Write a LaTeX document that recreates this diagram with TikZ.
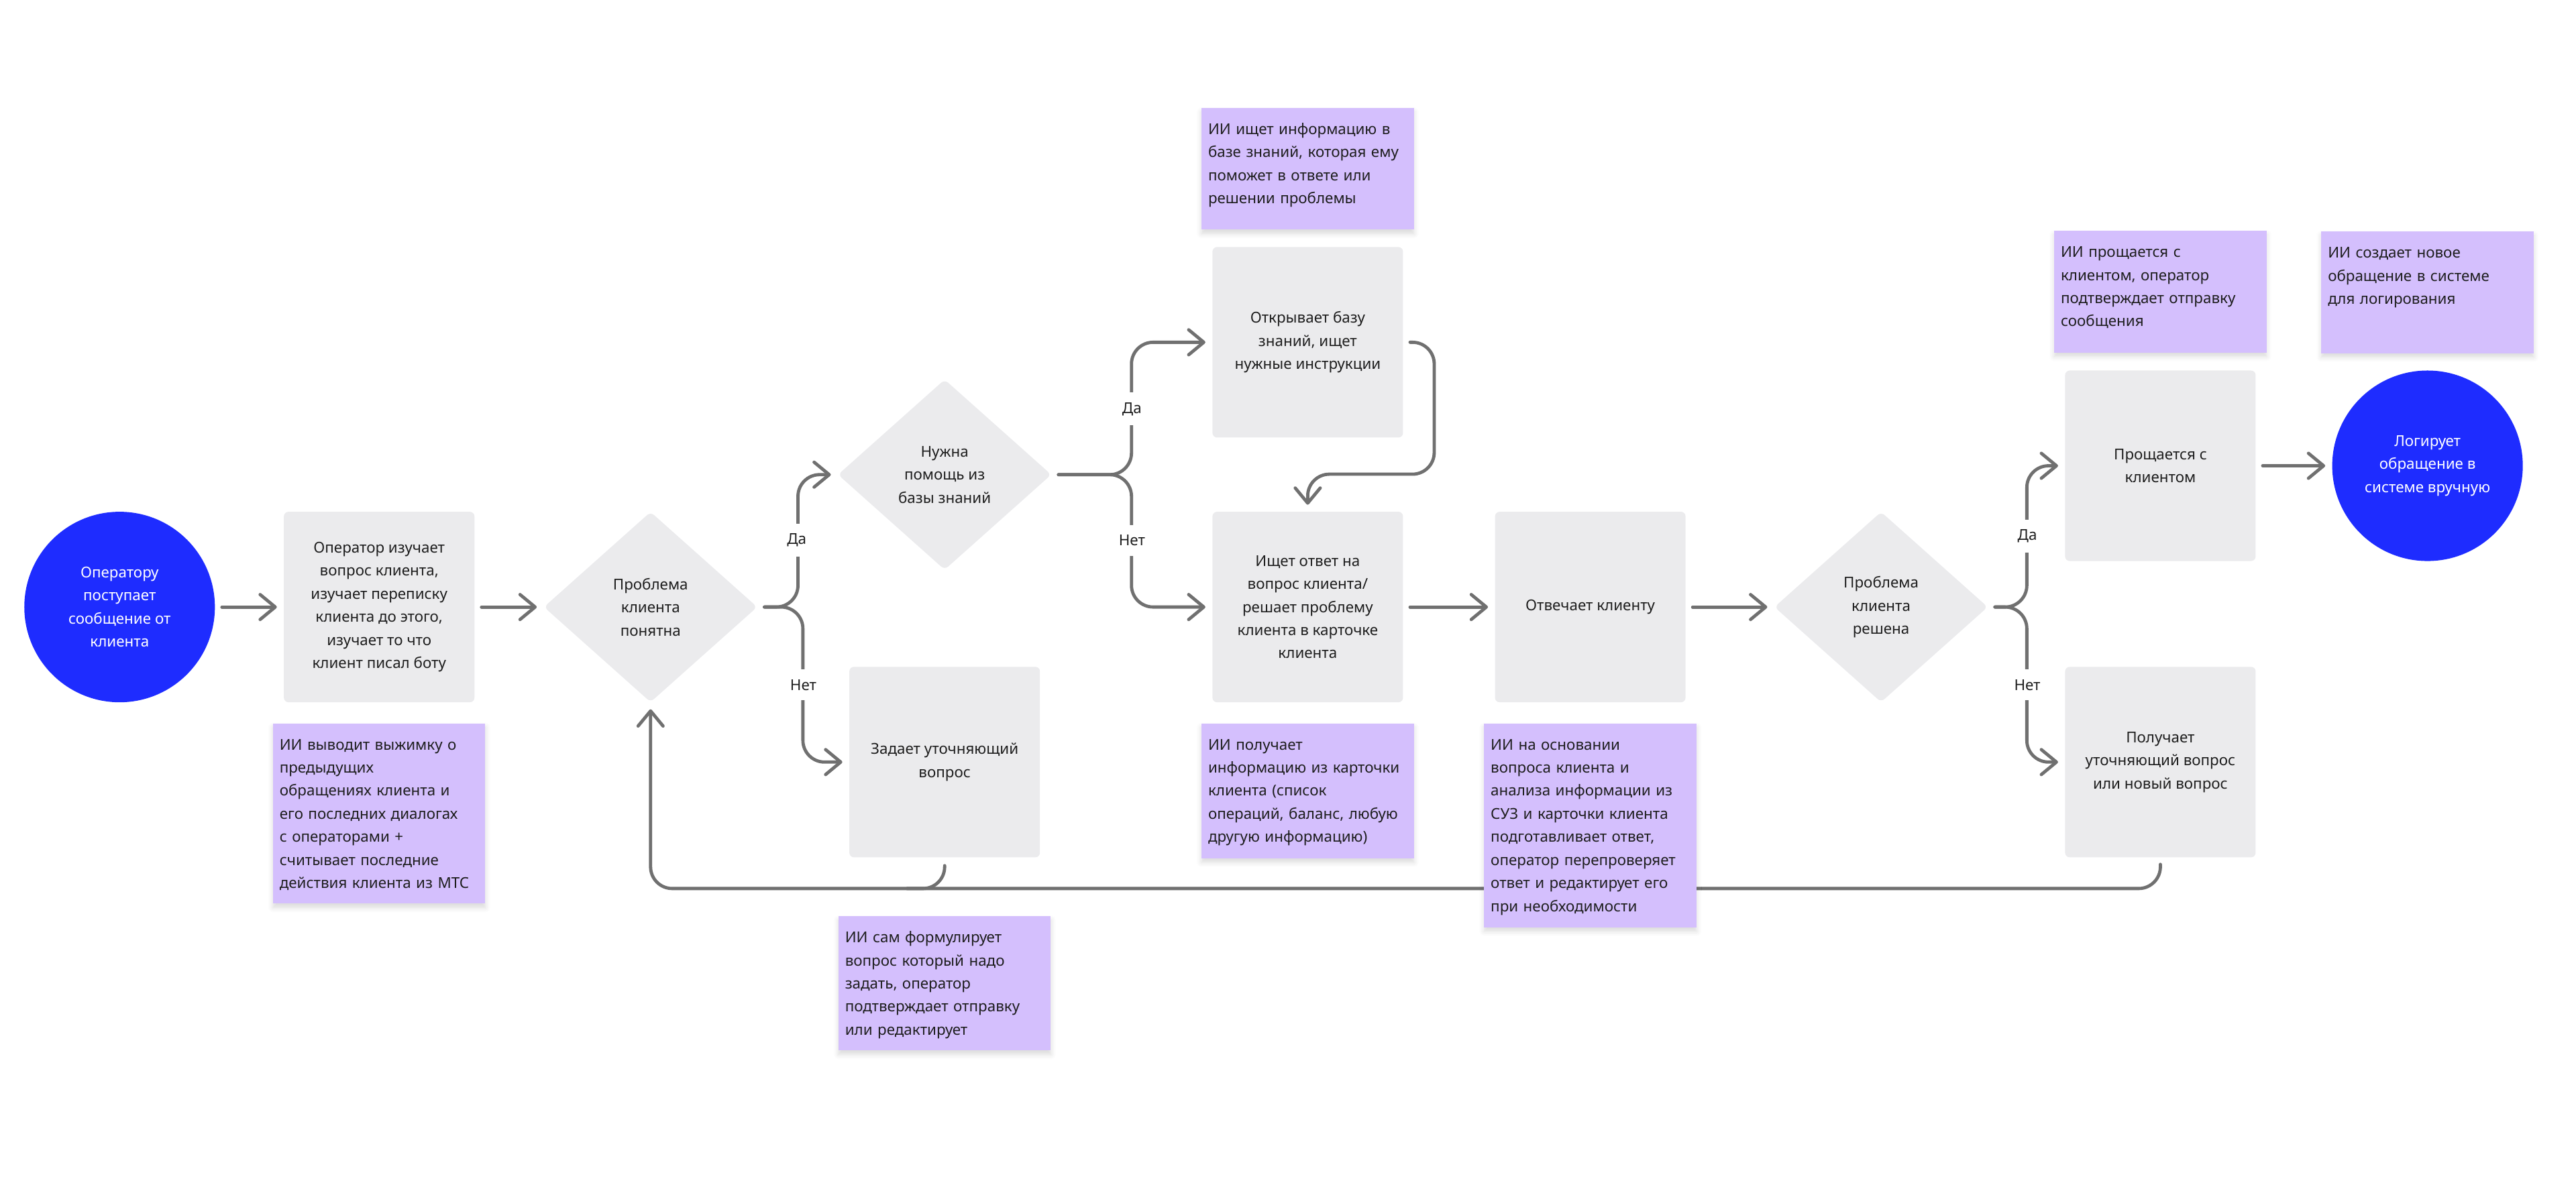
\documentclass[tikz,border=0pt]{standalone}
\usepackage{fontspec}
\setmainfont{Noto Sans}
\usetikzlibrary{positioning,arrows.meta,shapes.geometric,shadows.blur}

\definecolor{startblue}{RGB}{30,44,255}
\definecolor{boxgray}{RGB}{235,235,237}
\definecolor{notepurple}{RGB}{212,191,253}
\definecolor{linegray}{RGB}{112,112,112}
\definecolor{textdark}{RGB}{30,30,30}

\tikzset{
  every node/.style={font=\fontsize{6.5}{10}\selectfont, text=textdark},
  endpoint/.style={circle, fill=startblue, text=white, minimum size=2.9cm,
    inner sep=0pt, align=center},
  stepbox/.style={rectangle, rounded corners=2pt, fill=boxgray,
    minimum width=2.9cm, minimum height=2.9cm, inner sep=0pt, align=center},
  decision/.style={diamond, rounded corners=2pt, fill=boxgray,
    minimum width=3.25cm, minimum height=2.9cm, inner sep=0pt, align=center},
  note/.style={rectangle, fill=notepurple, text width=3.03cm, align=left,
    inner xsep=0.1cm, inner ysep=0.2cm, text height=0.2cm, text depth=#1,
    blur shadow={shadow xshift=0pt, shadow yshift=-0.06cm,
      shadow blur steps=6, shadow opacity=15}},
  note/.default=1.25cm,
  answer/.style={fill=white, inner xsep=1pt, inner ysep=0.15cm},
  flow/.style={draw=linegray, line width=1.4pt, line cap=round,
    rounded corners=0.33cm, shorten <=0.1cm, shorten >=0.1cm,
    -{Straight Barb[length=2.3mm, width=3.8mm, round]}},
  link/.style={draw=linegray, line width=1.4pt, line cap=round,
    rounded corners=0.33cm, shorten <=0.12cm}
}

\begin{document}
\begin{tikzpicture}
\useasboundingbox (0,0) rectangle (39.2,18);

% main flow
\node[endpoint] (start) at (1.82,8.76)
  {Оператору\\поступает\\сообщение от\\клиента};
\node[stepbox] (study) at (5.77,8.76)
  {Оператор изучает\\вопрос клиента,\\изучает переписку\\клиента до этого,\\изучает то что\\клиент писал боту};
\node[decision] (clear) at (9.9,8.76) {Проблема\\клиента\\понятна};
\node[decision] (needkb) at (14.375,10.775) {Нужна\\помощь из\\базы знаний};
\node[stepbox] (ask) at (14.375,6.4) {Задает уточняющий\\вопрос};
\node[stepbox] (openkb) at (19.9,12.79)
  {Открывает базу\\знаний, ищет\\нужные инструкции};
\node[stepbox] (search) at (19.9,8.76)
  {Ищет ответ на\\вопрос клиента/\\решает проблему\\клиента в карточке\\клиента};
\node[stepbox] (reply) at (24.2,8.76) {Отвечает клиенту};
\node[decision] (solved) at (28.625,8.76) {Проблема\\клиента\\решена};
\node[stepbox] (bye) at (32.875,10.91) {Прощается с\\клиентом};
\node[stepbox] (newq) at (32.875,6.4)
  {Получает\\уточняющий вопрос\\или новый вопрос};
\node[endpoint] (logged) at (36.94,10.91)
  {Логирует\\обращение в\\системе вручную};

\coordinate (back) at (9.9,4.475);
\coordinate (merge) at (13.8,4.475);

% connectors
\draw[flow] (start) -- (study);
\draw[flow] (study) -- (clear);
\draw[flow] (clear.east) -| ([xshift=-0.6cm]needkb.west) -- (needkb.west);
\draw[flow] (clear.east) -| ([xshift=-0.7cm]ask.west) -- (ask.west);
\draw[flow] (needkb.east) -| ([xshift=-1.225cm]openkb.west) -- (openkb.west);
\draw[flow] (needkb.east) -| ([xshift=-1.225cm]search.west) -- (search.west);
\draw[flow] (openkb.east) -| ([shift={(1.925cm,0.565cm)}]search.north)
  -| (search.north);
\draw[flow] (search) -- (reply);
\draw[flow] (reply) -- (solved);
\draw[flow] (solved.east) -| ([xshift=-0.575cm]bye.west) -- (bye.west);
\draw[flow] (solved.east) -| ([xshift=-0.575cm]newq.west) -- (newq.west);
\draw[flow] (bye) -- (logged);
\draw[flow] (newq.south) |- (back) -- (clear.south);
\draw[link] (ask.south) |- (merge);

\node[answer] (yes1) at (12.125,9.775) {Да};
\node[answer] (no1) at (12.225,7.575) {Нет};
\node[answer] (yes2) at (17.225,11.775) {Да};
\node[answer] (no2) at (17.225,9.775) {Нет};
\node[answer] (yes3) at (30.85,9.8375) {Да};
\node[answer] (no3) at (30.85,7.575) {Нет};

% AI notes
\node[note=2.14cm, below=0.31cm of study] (digest)
  {ИИ выводит выжимку о\\предыдущих\\обращениях клиента и\\его последних диалогах\\с операторами +\\считывает последние\\действия клиента из МТС};
\node[note=1.25cm, above=0.25cm of openkb] (kbnote)
  {ИИ ищет информацию в\\базе знаний, которая ему\\поможет в ответе или\\решении проблемы};
\node[note=1.45cm, below=0.31cm of search] (cardnote)
  {ИИ получает\\информацию из карточки\\клиента (список\\операций, баланс, любую\\другую информацию)};
\node[note=2.5cm, below=0.31cm of reply] (draftnote)
  {ИИ на основании\\вопроса клиента и\\анализа информации из\\СУЗ и карточки клиента\\подготавливает ответ,\\оператор перепроверяет\\ответ и редактирует его\\при необходимости};
\node[note=1.44cm, below=0.885cm of ask] (asknote)
  {ИИ сам формулирует\\вопрос который надо\\задать, оператор\\подтверждает отправку\\или редактирует};
\node[note=1.25cm, above=0.26cm of bye] (byenote)
  {ИИ прощается с\\клиентом, оператор\\подтверждает отправку\\сообщения};
\node[note=1.25cm, above=0.25cm of logged] (lognote)
  {ИИ создает новое\\обращение в системе\\для логирования};

\end{tikzpicture}
\end{document}
